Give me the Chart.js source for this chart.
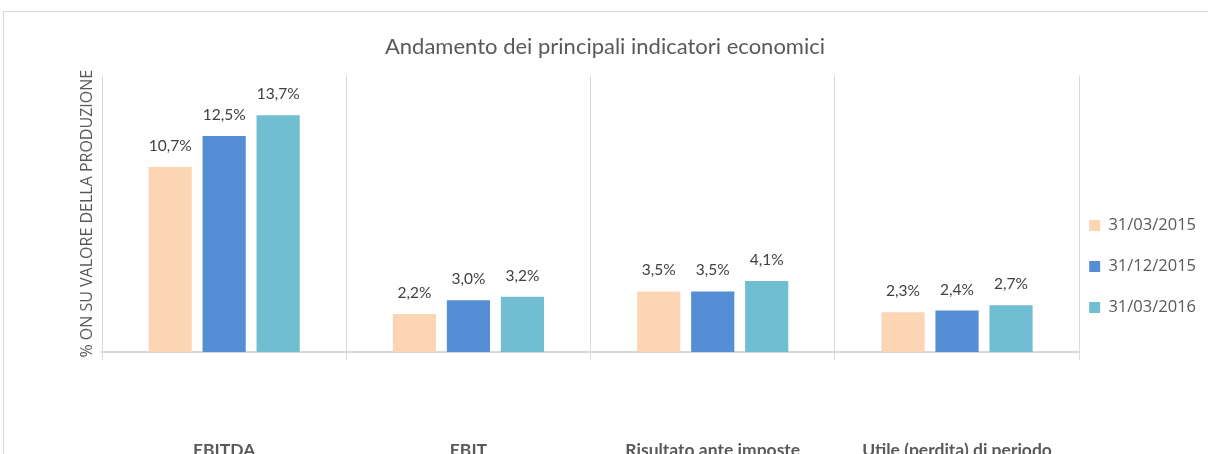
<!DOCTYPE html>
<html>
<head>
<meta charset="utf-8">
<script src="https://cdn.jsdelivr.net/npm/chart.js@4.4.1/dist/chart.umd.min.js"></script>
<style>
  html, body { margin: 0; padding: 0; background: #fff; overflow: hidden; }
  #box {
    position: absolute; left: 3px; top: 11px;
    width: 1216px; height: 470px;
    border: 1px solid #d9d9d9;
  }
</style>
</head>
<body>
<div id="box"><canvas id="myChart"></canvas></div>
<script>
// chart data
var categories = ['EBITDA', 'EBIT', 'Risultato ante imposte', 'Utile (perdita) di periodo'];
var seriesNames = ['31/03/2015', '31/12/2015', '31/03/2016'];
var mar2015 = [10.7, 2.2, 3.5, 2.3];
var dec2015 = [12.5, 3.0, 3.5, 2.4];
var mar2016 = [13.7, 3.2, 4.1, 2.7];
var yMax = 16;

var colors = ['#fcd5b5', '#558ed5', '#71bdd1'];

// draws the value above each bar, italian decimal comma
var valueLabels = {
    id: 'valueLabels',
    afterDatasetsDraw: function (chart) {
        var ctx = chart.ctx;
        ctx.save();
        ctx.font = '15.5px Lato';
        ctx.fillStyle = '#404040';
        ctx.textAlign = 'center';
        ctx.textBaseline = 'alphabetic';
        chart.data.datasets.forEach(function (ds, i) {
            chart.getDatasetMeta(i).data.forEach(function (bar, j) {
                var txt = ds.data[j].toFixed(1).replace('.', ',') + '%';
                ctx.fillText(txt, bar.x, bar.y - 16);
            });
        });
        ctx.restore();
    }
};

var ctx = document.getElementById('myChart');

var chart = new Chart(ctx, {
    type: 'bar',
    data: {
        labels: categories,
        datasets: [
            { label: seriesNames[0], data: mar2015, backgroundColor: colors[0] },
            { label: seriesNames[1], data: dec2015, backgroundColor: colors[1] },
            { label: seriesNames[2], data: mar2016, backgroundColor: colors[2] }
        ]
    },
    options: {
        responsive: true,
        maintainAspectRatio: false,
        animation: false,
        datasets: {
            bar: { categoryPercentage: 0.663, barPercentage: 0.8 }
        },
        layout: { padding: { left: 0, right: 14, bottom: 23, top: 0 } },
        plugins: {
            title: {
                display: true,
                text: 'Andamento dei principali indicatori economici',
                color: '#595959',
                font: { family: 'Lato', size: 22, weight: 'normal' },
                padding: { top: 22, bottom: 15 }
            },
            legend: {
                position: 'right',
                title: {
                    display: true,
                    text: ' ',
                    padding: { top: 62, bottom: 0 },
                    font: { size: 12 }
                },
                labels: {
                    boxWidth: 11,
                    boxHeight: 11,
                    padding: 10,
                    color: '#595959',
                    font: { family: 'Open Sans', size: 16.5, lineHeight: 1.88 },
                    // text as one-line arrays so the row height follows the font lineHeight
                    generateLabels: function (chart) {
                        var items = Chart.defaults.plugins.legend.labels.generateLabels(chart);
                        items.forEach(function (item) { item.text = [item.text]; });
                        return items;
                    }
                }
            },
            tooltip: { enabled: false }
        },
        scales: {
            x: {
                afterFit: function (scale) { scale.height = 107; },
                grid: {
                    color: '#d9d9d9',
                    lineWidth: 1,
                    offset: true,
                    tickLength: 8
                },
                border: { color: '#d9d9d9', width: 2 },
                ticks: {
                    padding: 80,
                    color: '#595959',
                    font: { family: 'Lato', size: 17.5, weight: 'bold' }
                }
            },
            y: {
                min: 0,
                max: yMax,
                afterFit: function (scale) { scale.width = 98; },
                grid: { display: false },
                border: { display: false },
                ticks: { display: false },
                title: {
                    display: true,
                    text: '% ON SU VALORE DELLA PRODUZIONE',
                    color: '#595959',
                    font: { family: 'Open Sans', size: 16 },
                    padding: { top: 74, bottom: 0 }
                }
            }
        }
    },
    plugins: [valueLabels]
});
</script>
</body>
</html>
